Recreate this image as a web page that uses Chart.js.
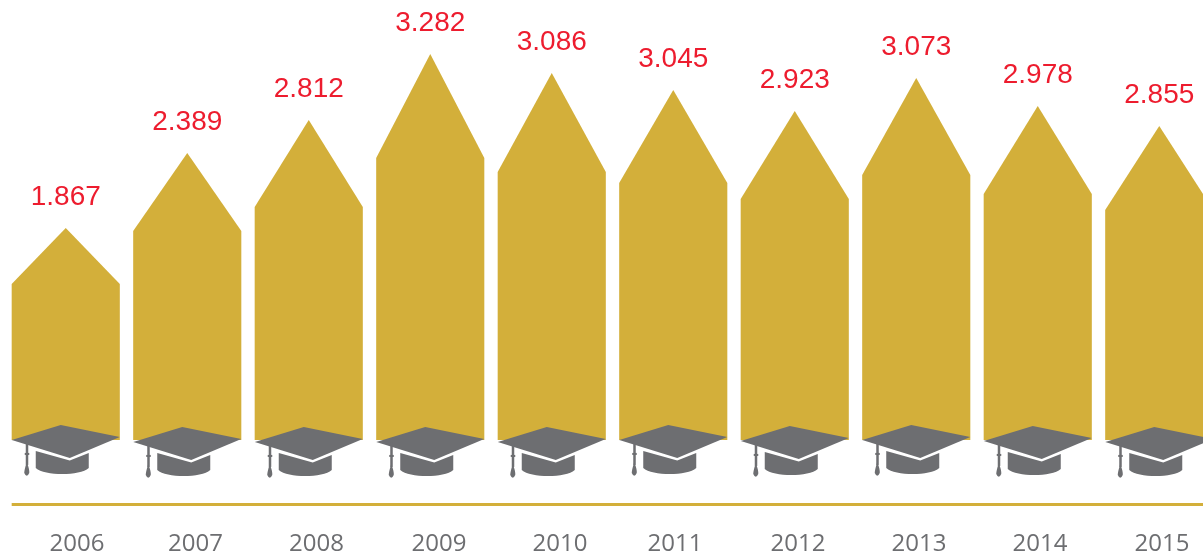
<!DOCTYPE html>
<html>
<head>
<meta charset="utf-8">
<style>
  html, body { margin: 0; padding: 0; background: #fff; overflow: hidden; width: 1203px; height: 557px; }
  canvas { display: block; }
</style>
<script src="https://cdn.jsdelivr.net/npm/chart.js@4/dist/chart.umd.min.js"></script>
</head>
<body>
<canvas id="chart" width="1220" height="557"></canvas>
<script>
const years = ['2006', '2007', '2008', '2009', '2010', '2011', '2012', '2013', '2014', '2015']
// printed figures
const values = [1867, 2389, 2812, 3282, 3086, 3045, 2923, 3073, 2978, 2855]
// the drawn shapes do not follow the printed figures exactly, so read them separately
const shoulders = [1339, 1794, 2000, 2421, 2301, 2206, 2069, 2275, 2112, 1975]
const peaks = [1820, 2464, 2747, 3314, 3151, 3005, 2825, 3108, 2867, 2696]
// where each year label sits, on the category axis
const yearTicks = [0.093, 1.068, 2.064, 3.072, 4.068, 5.014, 6.027, 7.023, 8.019, 9.023]

const GOLD = '#d3af3a'
const GREY = '#6d6e71'
const RED = '#ed1c2e'

// caps sit slightly lower on some pencils
const capDrop = [0, 2, 2, 2, 2, 0, 1, 0, 1, 2]

function drawCap(ctx, cx, y0) {
  ctx.save()
  ctx.translate(cx, y0)
  ctx.fillStyle = GREY
  // board
  ctx.beginPath()
  ctx.moveTo(-54, 0)
  ctx.lineTo(-5, -15)
  ctx.lineTo(54, -3)
  ctx.lineTo(4, 18)
  ctx.closePath()
  ctx.fill()
  // band under the board
  ctx.beginPath()
  ctx.moveTo(-30, 11)
  ctx.lineTo(4, 20.5)
  ctx.lineTo(23, 13)
  ctx.lineTo(23, 28)
  ctx.bezierCurveTo(14, 36, -21, 36, -30, 28)
  ctx.closePath()
  ctx.fill()
  // tassel
  ctx.fillRect(-40, 1, 2.5, 24)
  ctx.fillRect(-41, 13, 4.5, 2)
  ctx.beginPath()
  ctx.moveTo(-39, 22)
  ctx.quadraticCurveTo(-36, 30, -36.5, 33)
  ctx.quadraticCurveTo(-39, 38.5, -41.5, 33)
  ctx.quadraticCurveTo(-41.5, 30, -39, 22)
  ctx.fill()
  ctx.restore()
}

const pencilPlugin = {
  id: 'pencil',
  // dataset 1 holds the roofs, drawn as triangles instead of boxes
  beforeDatasetDraw(chart, args) {
    if (args.index !== 1) return
    const ctx = chart.ctx
    ctx.save()
    ctx.fillStyle = GOLD
    args.meta.data.forEach(bar => {
      ctx.beginPath()
      ctx.moveTo(bar.x - bar.width / 2, bar.base)
      ctx.lineTo(bar.x, bar.y)
      ctx.lineTo(bar.x + bar.width / 2, bar.base)
      ctx.closePath()
      ctx.fill()
    })
    ctx.restore()
    return false
  },
  afterDraw(chart) {
    const ctx = chart.ctx
    const yScale = chart.scales.y
    const bars = chart.getDatasetMeta(1).data

    bars.forEach((bar, i) => {
      drawCap(ctx, bar.x, yScale.getPixelForValue(0) + capDrop[i])
      ctx.fillStyle = RED
      ctx.font = '28px "Liberation Sans"'
      ctx.textAlign = 'center'
      ctx.textBaseline = 'middle'
      ctx.fillText((values[i] / 1000).toFixed(3), bar.x, bar.y - 31)
    })

    // rule above the years
    ctx.fillStyle = GOLD
    ctx.fillRect(bars[0].x - bars[0].width / 2, chart.chartArea.bottom - 1, chart.width, 3)
  },
}

new Chart(document.getElementById('chart'), {
  type: 'bar',
  data: {
    labels: years,
    datasets: [
      { data: shoulders, backgroundColor: GOLD },
      { data: peaks.map((p, i) => [shoulders[i], p]), backgroundColor: GOLD },
    ],
  },
  options: {
    responsive: false,
    animation: false,
    layout: { padding: { left: 5 } },
    plugins: { legend: { display: false }, tooltip: { enabled: false } },
    datasets: { bar: { grouped: false, barPercentage: 0.89, categoryPercentage: 1 } },
    scales: {
      x: { display: false },
      years: {
        type: 'linear',
        axis: 'x',
        position: 'bottom',
        offset: false,
        min: -0.5,
        max: 9.5,
        grid: { display: false, drawTicks: false, offset: false },
        border: { display: false },
        afterBuildTicks(scale) {
          scale.ticks = yearTicks.map(value => ({ value }))
        },
        afterFit(scale) {
          scale.height = 53
        },
        ticks: {
          autoSkip: false,
          maxRotation: 0,
          padding: 26,
          color: GREY,
          font: { family: '"Open Sans"', size: 24 },
          callback: (value, index) => years[index],
        },
      },
      y: { display: false, min: -550, max: 3777 },
    },
  },
  plugins: [pencilPlugin],
})
</script>
</body>
</html>
